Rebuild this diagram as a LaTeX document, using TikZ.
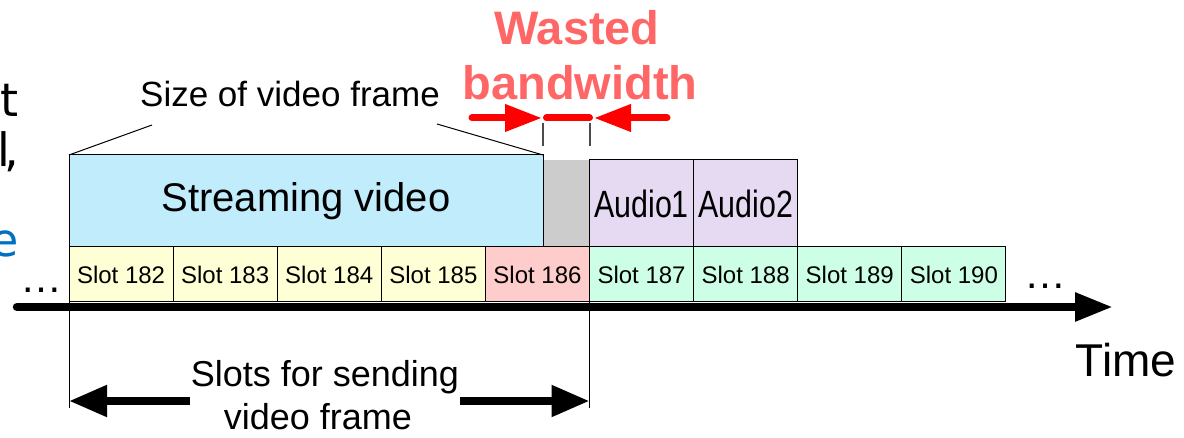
\documentclass[tikz,border=0pt]{standalone}
\usepackage{fontspec}
\setmainfont{Liberation Sans}
\newfontfamily\slidefont{DejaVu Sans}
\usetikzlibrary{arrows.meta}
\definecolor{videoblue}{RGB}{192,236,252}
\definecolor{slotyellow}{RGB}{255,255,213}
\definecolor{slotpink}{RGB}{255,204,204}
\definecolor{slotgreen}{RGB}{204,255,229}
\definecolor{audiopurple}{RGB}{230,218,242}
\definecolor{wastegray}{RGB}{204,204,204}
\definecolor{wastered}{RGB}{255,102,102}
\definecolor{slideblue}{RGB}{0,112,192}
\newcommand\fsz[1]{\fontsize{#1}{#1}\selectfont}
\begin{document}
\begin{tikzpicture}[x=1pt,y=-1pt,
  box/.style={draw=black, line width=1pt, inner sep=0pt, outer sep=0pt, anchor=north west},
  slotbox/.style={box, minimum width=104.1pt, minimum height=55pt, font=\fsz{24}},
  audiobox/.style={box, fill=audiopurple, minimum width=104.1pt, minimum height=87pt, font=\fsz{38}},
  thinline/.style={draw=black, line width=1pt},
  tickline/.style={draw=black!70, line width=1.2pt},
  bigarrow/.style={line width=8pt, -{Triangle[length=38pt,width=30pt]}},
  redarrow/.style={draw=red, line width=7pt, line cap=round, -{Triangle[length=37pt,width=26pt]}},
  redbar/.style={draw=red, line width=7pt, line cap=round},
  txt/.style={anchor=base, inner sep=0pt},
  cuttxt/.style={anchor=base east, inner sep=0pt, font=\slidefont\fsz{46}}
]
\clip (0,0) rectangle (1184,438);

% cropped slide text at the left edge
\node[cuttxt] (cut1) at (19,117) {t};
\node[cuttxt] (cut2) at (19,167) {l\kern-6pt,};
\node[cuttxt, text=slideblue] (cut3) at (19,257) {e};

% wasted area and upper boxes
\node[anchor=north west, fill=wastegray, minimum width=46.5pt, minimum height=87pt, inner sep=0pt, outer sep=0pt] (waste) at (543,160) {};
\node[audiobox] (a1) at (589.5,160) {\scalebox{0.8}[1]{Audio1}};
\node[audiobox] (a2) at (693.6,160) {\scalebox{0.8}[1]{Audio2}};
\node[box, fill=videoblue, minimum width=474pt, minimum height=92pt, font=\fsz{40}] (video) at (69,155) {Streaming video};

% slots
\node[slotbox, fill=slotyellow] (s182) at (69,247) {Slot 182};
\node[slotbox, fill=slotyellow] (s183) at (173.1,247) {Slot 183};
\node[slotbox, fill=slotyellow] (s184) at (277.2,247) {Slot 184};
\node[slotbox, fill=slotyellow] (s185) at (381.3,247) {Slot 185};
\node[slotbox, fill=slotpink] (s186) at (485.4,247) {Slot 186};
\node[slotbox, fill=slotgreen] (s187) at (589.5,247) {Slot 187};
\node[slotbox, fill=slotgreen] (s188) at (693.6,247) {Slot 188};
\node[slotbox, fill=slotgreen] (s189) at (797.7,247) {Slot 189};
\node[slotbox, fill=slotgreen] (s190) at (901.8,247) {Slot 190};

% time axis
\coordinate (axL) at (17,307);
\coordinate (axR) at (1113,307);
\draw[line width=8.5pt, line cap=round, -{Triangle[length=38pt,width=27pt]}] (axL) -- (axR);
\node[txt, font=\fsz{42}] (dotsL) at (41.5,293) {…};
\node[txt, font=\fsz{42}] (dotsR) at (1045,289) {…};
\node[txt, font=\fsz{46}] (time) at (1126,377) {Time};

% size of video frame
\node[txt, font=\fsz{35}] (sizelbl) at (290,107) {Size of video frame};
\coordinate (szL) at (152,125);
\coordinate (szR) at (437,124);
\draw[thinline] (video.north west) -- (szL);
\draw[thinline] (video.north east) -- (szR);

% wasted bandwidth
\node[txt, font=\bfseries\fsz{47}, text=wastered] (w1) at (577,45) {Wasted};
\node[txt, font=\bfseries\fsz{47}, text=wastered] (w2) at (580,100) {bandwidth};
\coordinate (g1t) at (543,123); \coordinate (g1b) at (543,146);
\coordinate (g2t) at (590,123); \coordinate (g2b) at (590,146);
\draw[tickline] (g1t) -- (g1b);
\draw[tickline] (g2t) -- (g2b);
\coordinate (ra1) at (472,118); \coordinate (ra2) at (542,118);
\coordinate (rb1) at (546.5,118); \coordinate (rb2) at (589.5,118);
\coordinate (rc1) at (667,118); \coordinate (rc2) at (594,118);
\draw[redarrow] (ra1) -- (ra2);
\draw[redbar] (rb1) -- (rb2);
\draw[redarrow] (rc1) -- (rc2);

% slots for sending video frame
\coordinate (vl) at (69,408);
\coordinate (vr) at (589.5,408);
\draw[thinline] (s182.south west) -- (vl);
\draw[thinline] (s186.south east) -- (vr);
\node[txt, font=\fsz{36}] (slots1) at (325,387) {Slots for sending};
\node[txt, font=\fsz{36}] (slots2) at (318,429) {video frame};
\coordinate (bl1) at (190,401); \coordinate (bl2) at (69,401);
\coordinate (br1) at (460,401); \coordinate (br2) at (589.5,401);
\draw[bigarrow] (bl1) -- (bl2);
\draw[bigarrow] (br1) -- (br2);
\end{tikzpicture}
\end{document}
